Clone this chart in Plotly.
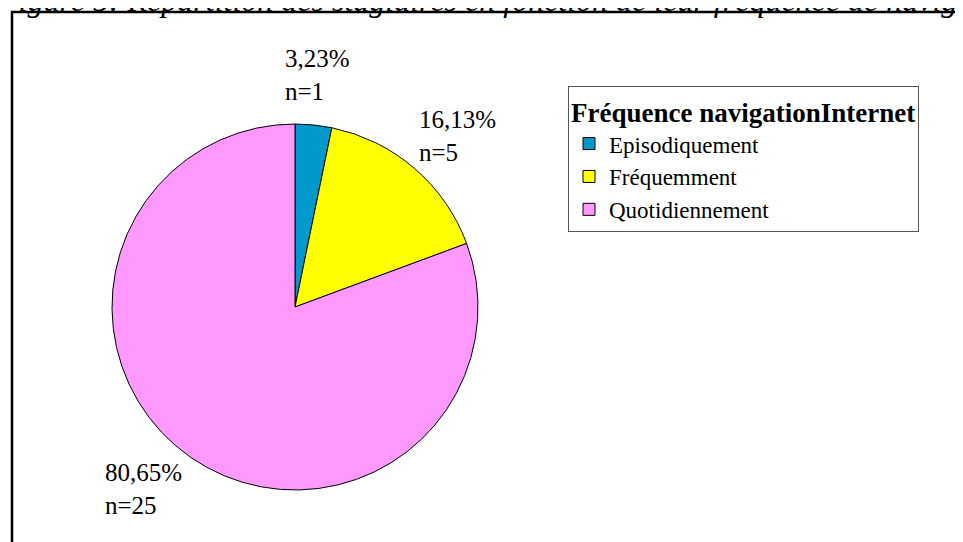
import plotly.graph_objects as go

W, H = 963, 542
OFF = 8  # the page body adds an 8px margin

# data
categories = ["Episodiquement", "Fréquemment", "Quotidiennement"]
counts = [1, 5, 25]
colors = ["#0099CC", "#FFFF00", "#FF99FF"]

total = sum(counts)


def px_x(x):
    return (x - OFF) / W


def px_y(y):
    return 1 - (y - OFF) / H


fig = go.Figure()

# pie, centre ~ (295, 307), radius ~ 183
cx, cy, r = 295, 307, 183
fig.add_trace(go.Pie(
    labels=categories,
    values=counts,
    sort=False,
    direction="clockwise",
    rotation=0,
    marker=dict(colors=colors, line=dict(color="black", width=1)),
    textinfo="none",
    hoverinfo="label+value+percent",
    domain=dict(x=[px_x(cx - r), px_x(cx + r)], y=[px_y(cy + r), px_y(cy - r)]),
))

# percentage labels
label_pos = [(283, 43), (417, 104), (103, 457)]
for n, (lx, ly) in zip(counts, label_pos):
    pct = f"{n / total * 100:.2f}".replace(".", ",")
    fig.add_annotation(
        x=px_x(lx), y=px_y(ly), xref="paper", yref="paper",
        xanchor="left", yanchor="top", align="left", showarrow=False,
        text=f"{pct}%<br>n={n}",
        font=dict(family="Liberation Serif", size=25, color="black"),
    )

# title, clipped at the top like the source image
fig.add_annotation(
    x=px_x(-4), y=px_y(20), xref="paper", yref="paper",
    xanchor="left", yanchor="bottom", showarrow=False,
    text="<i>Figure 5: Répartition des stagiaires en fonction de leur fréquence de navigation Internet</i>",
    font=dict(family="Liberation Serif", size=32, color="black"),
)

# outer frame
fig.add_shape(type="rect", xref="paper", yref="paper",
              x0=px_x(12), x1=1.1, y0=-0.1, y1=px_y(12),
              line=dict(color="black", width=2.5))

fig.update_layout(
    width=W, height=H,
    margin=dict(l=0, r=0, t=0, b=0),
    paper_bgcolor="white", plot_bgcolor="white",
    font=dict(family="Liberation Serif", color="black"),
    showlegend=True,
    legend=dict(
        x=px_x(568), y=px_y(86), xanchor="left", yanchor="top",
        bordercolor="#555555", borderwidth=1, bgcolor="white",
        title=dict(text="<b>Fréquence navigationInternet</b>",
                   font=dict(family="Liberation Serif", size=27)),
        font=dict(family="Liberation Serif", size=23),
        tracegroupgap=0,
    ),
)

fig.write_html("out.html")
